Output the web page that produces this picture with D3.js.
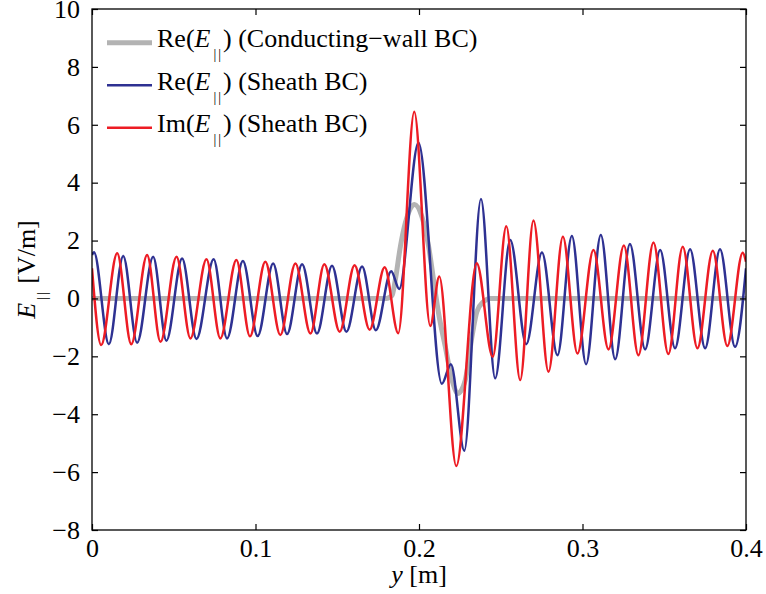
<!DOCTYPE html>
<html>
<head>
<meta charset="utf-8">
<script src="https://cdn.jsdelivr.net/npm/d3@7"></script>
<style>
  html, body { margin: 0; padding: 0; background: #fff; }
  svg { display: block; }
  svg text { font-family: "Liberation Serif", "Times New Roman", Times, "DejaVu Serif", serif !important; fill: #000; }
</style>
</head>
<body>
<svg id="chart" width="766" height="594"></svg>
<script>
// ---- data ----
const xTicks = [0, 0.1, 0.2, 0.3, 0.4];
const xTickLabels = ["0", "0.1", "0.2", "0.3", "0.4"];
const yTicks = [-8, -6, -4, -2, 0, 2, 4, 6, 8, 10];
const yTickLabels = ["\u22128", "\u22126", "\u22124", "\u22122", "0", "2", "4", "6", "8", "10"];

const seriesNames = ["Conducting\u2212wall BC", "Sheath BC", "Sheath BC"];
const seriesPrefix = ["Re(", "Re(", "Im("];

// Re(E||) conducting-wall BC
const wallX = [0, 0.180, 0.1835, 0.1855, 0.1886, 0.1916, 0.1973, 0.2018, 0.2059, 0.2089,
  0.2120, 0.2161, 0.2202, 0.2238, 0.2283, 0.2324, 0.2354, 0.2395, 0.2436, 0.4];
const wallY = [0, 0, 0.1, 0.64, 1.79, 2.6, 3.25, 2.82, 1.79, 0.64,
  -0.52, -1.67, -2.82, -3.28, -2.82, -1.32, -0.46, -0.11, 0, 0];

// Re(E||) sheath BC
const reX = [0, 0.0012, 0.0103, 0.0191, 0.0276, 0.0374, 0.0455, 0.0551, 0.0639, 0.0744,
  0.0826, 0.0923, 0.1013, 0.1108, 0.1193, 0.1285, 0.1376, 0.1468, 0.1556, 0.1652,
  0.1736, 0.1830, 0.1879, 0.1997, 0.2140, 0.2195, 0.2277, 0.2379, 0.2466, 0.2558,
  0.2656, 0.2752, 0.2847, 0.2935, 0.3022, 0.3112, 0.3200, 0.3290, 0.3383, 0.3475,
  0.3566, 0.3658, 0.3750, 0.3841, 0.3933, 0.4];
const reY = [1.5, 1.6, -1.58, 1.47, -1.53, 1.44, -1.46, 1.38, -1.40, 1.35,
  -1.38, 1.29, -1.30, 1.21, -1.23, 1.18, -1.21, 1.13, -1.15, 1.10,
  -1.10, 0.94, 0.33, 5.38, -2.95, -2.27, -5.26, 3.44, -2.76, 2.02,
  -1.58, 1.59, -1.96, 2.16, -2.27, 2.19, -2.10, 1.88, -1.76, 1.67,
  -1.72, 1.70, -1.72, 1.70, -1.67, 1.04];

// Im(E||) sheath BC
const imX = [0, 0.0056, 0.0154, 0.0240, 0.0337, 0.0419, 0.0517, 0.0602, 0.0700, 0.0785,
  0.0883, 0.0966, 0.1060, 0.1152, 0.1244, 0.1336, 0.1421, 0.1515, 0.1606, 0.1698,
  0.1790, 0.1873, 0.1971, 0.2069, 0.2124, 0.2228, 0.2353, 0.2451, 0.2534, 0.2619,
  0.2700, 0.2792, 0.2880, 0.2969, 0.3067, 0.3159, 0.3253, 0.3342, 0.3434, 0.3525,
  0.3613, 0.3703, 0.3797, 0.3886, 0.3980, 0.4];
const imY = [1.04, -1.61, 1.56, -1.58, 1.50, -1.50, 1.44, -1.38, 1.35, -1.38,
  1.33, -1.31, 1.27, -1.26, 1.21, -1.21, 1.18, -1.15, 1.15, -1.08,
  1.08, -1.20, 6.45, -0.95, 0.76, -5.79, 1.22, -2.01, 2.49, -2.82,
  2.69, -2.53, 2.13, -1.90, 1.67, -1.76, 1.83, -1.96, 1.93, -1.92,
  1.79, -1.72, 1.65, -1.64, 1.58, 1.27];

// ---- layout ----
const L = 92, R = 746, T = 9, B = 530;
const FS = 26;
const FONT = '"Liberation Serif", "Times New Roman", Times, "DejaVu Serif", serif';
const svg = d3.select("#chart");

const x = d3.scaleLinear().domain([0, 0.4]).range([L, R]);
const y = d3.scaleLinear().domain([-8, 10]).range([B, T]);

const series = [
  { xs: wallX, ys: wallY, color: "#b3b3b3", width: 5 },
  { xs: reX, ys: reY, color: "#2e3192", width: 2.5 },
  { xs: imX, ys: imY, color: "#ed1c24", width: 2.5 }
];

svg.append("clipPath").attr("id", "clip")
  .append("rect").attr("x", L).attr("y", T).attr("width", R - L).attr("height", B - T);

const line = d3.line().x(d => x(d[0])).y(d => y(d[1])).curve(d3.curveMonotoneX);

const plot = svg.append("g").attr("clip-path", "url(#clip)");
series.forEach(s => {
  const pts = s.xs.map((v, i) => [v, s.ys[i]]);
  plot.append("path").datum(pts)
    .attr("d", line)
    .attr("fill", "none")
    .attr("stroke", s.color)
    .attr("stroke-width", s.width)
    .attr("stroke-linejoin", "round")
    .attr("stroke-linecap", "butt");
});

// ---- axes ----
function styleAxis(g) {
  g.attr("font-family", FONT).attr("font-size", FS);
  g.select(".domain").remove();
  g.selectAll(".tick line").attr("stroke", "#000").attr("stroke-width", 1.2);
  g.selectAll(".tick text").style("font-size", FS + "px").style("font-family", FONT);
}
svg.append("g").attr("transform", `translate(0,${B})`)
  .call(d3.axisBottom(x).tickValues(xTicks).tickFormat((d, i) => xTickLabels[i]).tickSizeInner(-6).tickSizeOuter(0).tickPadding(9))
  .call(styleAxis);
svg.append("g").attr("transform", `translate(0,${T})`)
  .call(d3.axisTop(x).tickValues(xTicks).tickFormat("").tickSizeInner(-6).tickSizeOuter(0))
  .call(styleAxis);
svg.append("g").attr("transform", `translate(${L},0)`)
  .call(d3.axisLeft(y).tickValues(yTicks).tickFormat((d, i) => yTickLabels[i]).tickSizeInner(-6).tickSizeOuter(0).tickPadding(12))
  .call(styleAxis);
svg.append("g").attr("transform", `translate(${R},0)`)
  .call(d3.axisRight(y).tickValues(yTicks).tickFormat("").tickSizeInner(-6).tickSizeOuter(0))
  .call(styleAxis);

svg.append("rect").attr("x", L).attr("y", T).attr("width", R - L).attr("height", B - T)
  .attr("fill", "none").attr("stroke", "#000").attr("stroke-width", 1.3);

// ---- E|| helper ----
function eLabel(t, prefix, suffix) {
  if (prefix) t.append("tspan").text(prefix);
  t.append("tspan").attr("font-style", "italic").text("E");
  t.append("tspan").attr("dx", 3).attr("dy", 12).style("font-size", "14px")
    .attr("letter-spacing", "2").text("||");
  t.append("tspan").attr("dy", -12).text(suffix);
}

// ---- axis labels ----
const xl = svg.append("text").attr("x", (L + R) / 2).attr("y", 583)
  .attr("text-anchor", "middle").style("font-size", FS + "px").style("font-family", FONT);
xl.append("tspan").attr("font-style", "italic").text("y");
xl.append("tspan").text(" [m]");

const yl = svg.append("text")
  .attr("transform", `translate(35,${(T + B) / 2}) rotate(-90)`)
  .attr("text-anchor", "middle").style("font-size", FS + "px").style("font-family", FONT);
eLabel(yl, "", " [V/m]");

// ---- legend ----
const legY0 = 42.7, legDY = 42.5;
series.forEach((s, i) => {
  const ly = legY0 + i * legDY;
  svg.append("line").attr("x1", 107).attr("x2", 152).attr("y1", ly).attr("y2", ly)
    .attr("stroke", s.color).attr("stroke-width", s.width);
  const t = svg.append("text").attr("x", 157).attr("y", ly + 4.5)
    .style("font-size", FS + "px").style("font-family", FONT);
  eLabel(t, seriesPrefix[i], ") (" + seriesNames[i] + ")");
});
</script>
</body>
</html>
